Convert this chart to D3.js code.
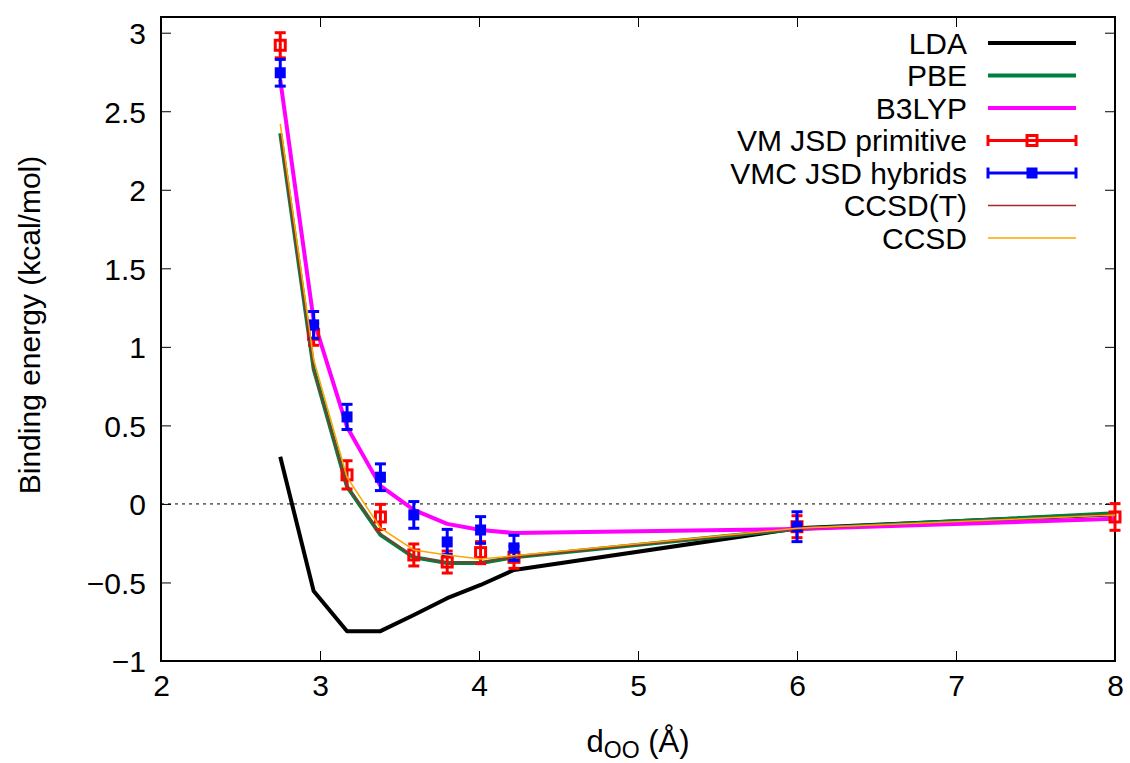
<!DOCTYPE html>
<html><head><meta charset="utf-8">
<script src="https://cdn.jsdelivr.net/npm/d3@7"></script>
<style>
body{margin:0;background:#fff;}
text{font-family:"Liberation Sans",Arial,sans-serif;}
</style></head>
<body><svg id="c" width="1130" height="763"></svg>
<script>
// ---- data ----
const dist = [2.75, 2.96, 3.17, 3.38, 3.59, 3.80, 4.01, 4.22, 6, 8];
const lda   = [0.30, -0.554, -0.81, -0.81, -0.707, -0.60, -0.516, -0.42, -0.155, -0.065];
const pbe   = [2.36, 0.86, 0.11, -0.197, -0.34, -0.376, -0.376, -0.34, -0.16, -0.06];
const b3lyp = [2.70, 1.17, 0.49, 0.115, -0.038, -0.127, -0.166, -0.185, -0.16, -0.095];
const ccsdt = [2.35, 0.855, 0.115, -0.19, -0.335, -0.37, -0.37, -0.34, -0.16, -0.065];
const ccsd  = [2.42, 0.92, 0.17, -0.153, -0.293, -0.325, -0.35, -0.33, -0.155, -0.07];
const vmPrim    = [2.92, 1.08, 0.185, -0.083, -0.325, -0.37, -0.31, -0.34, -0.145, -0.083];
const vmPrimErr = [0.08, 0.07, 0.09, 0.08, 0.07, 0.07, 0.07, 0.07, 0.07, 0.085];
const vmcDist   = [2.75, 2.96, 3.17, 3.38, 3.59, 3.80, 4.01, 4.22, 6];
const vmcHyb    = [2.745, 1.14, 0.554, 0.17, -0.07, -0.242, -0.166, -0.28, -0.145];
const vmcErr    = [0.085, 0.085, 0.08, 0.085, 0.085, 0.08, 0.085, 0.08, 0.095];
const xTicks = [2, 3, 4, 5, 6, 7, 8];
const yTicks = [-1, -0.5, 0, 0.5, 1, 1.5, 2, 2.5, 3];
const legendLabels = ["LDA", "PBE", "B3LYP", "VM JSD primitive", "VMC JSD hybrids", "CCSD(T)", "CCSD"];

// ---- layout ----
const L = 161, R = 1115, T = 17, B = 661;
const svg = d3.select("#c");
const x = d3.scaleLinear().domain([2, 8]).range([L, R]);
const y = d3.scaleLinear().domain([-1, 3.1]).range([B, T]);
const FS = 30;
const fmt = v => (v < 0 ? "\u2212" : "") + String(Math.abs(v));

// zero line
svg.append("line").attr("x1", L).attr("x2", R).attr("y1", y(0)).attr("y2", y(0))
  .attr("stroke", "#000").attr("stroke-width", 1).attr("stroke-dasharray", "3,4");

// axes
const axB = d3.axisBottom(x).tickValues(xTicks).tickSizeInner(-10).tickSizeOuter(0).tickPadding(14).tickFormat(fmt);
const axT = d3.axisTop(x).tickValues(xTicks).tickSizeInner(-10).tickSizeOuter(0).tickFormat("");
const axL = d3.axisLeft(y).tickValues(yTicks).tickSizeInner(-10).tickSizeOuter(0).tickPadding(15).tickFormat(fmt);
const axR = d3.axisRight(y).tickValues(yTicks).tickSizeInner(-10).tickSizeOuter(0).tickFormat("");
function styleAx(g){
  g.select(".domain").remove();
  g.selectAll(".tick line").attr("stroke", "#000").attr("stroke-width", 1);
  g.selectAll(".tick text").attr("font-size", FS).attr("fill", "#000")
   .style("font-family", '"Liberation Sans",Arial,sans-serif');
}
svg.append("g").attr("transform", `translate(0,${B})`).call(axB).call(styleAx)
  .selectAll(".tick text").attr("dy", "0.71em");
svg.append("g").attr("transform", `translate(0,${T})`).call(axT).call(styleAx);
svg.append("g").attr("transform", `translate(${L},0)`).call(axL).call(styleAx)
  .selectAll(".tick text").attr("dy", "0.36em");
svg.append("g").attr("transform", `translate(${R},0)`).call(axR).call(styleAx);
svg.append("rect").attr("x", L).attr("y", T).attr("width", R - L).attr("height", B - T)
  .attr("fill", "none").attr("stroke", "#000").attr("stroke-width", 2);

// axis labels
const xl = svg.append("text").attr("x", 638).attr("y", 752).attr("text-anchor", "middle").attr("font-size", 31);
xl.append("tspan").text("d");
xl.append("tspan").attr("font-size", 23).attr("dy", 6).text("OO");
xl.append("tspan").attr("dy", -6).text(" (\u00C5)");
svg.append("text").attr("transform", "translate(40,325) rotate(-90)").attr("text-anchor", "middle")
  .attr("font-size", FS).text("Binding energy (kcal/mol)");

// lines
const line = (xs, ys) => d3.line().x((d, i) => x(xs[i])).y(d => y(d))(ys);
const lineSpecs = [
  {ys: lda, color: "#000000", w: 4},
  {ys: pbe, color: "#008040", w: 4},
  {ys: b3lyp, color: "#ff00ff", w: 4}
];
lineSpecs.forEach(s => svg.append("path").attr("d", line(dist, s.ys)).attr("fill", "none")
  .attr("stroke", s.color).attr("stroke-width", s.w).attr("stroke-linejoin", "round"));

// error bars
function errSeries(xs, ys, es, color, filled){
  const g = svg.append("g");
  xs.forEach((xv, i) => {
    const cx = x(xv), y1 = y(ys[i] - es[i]), y2 = y(ys[i] + es[i]);
    g.append("line").attr("x1", cx).attr("x2", cx).attr("y1", y1).attr("y2", y2).attr("stroke", color).attr("stroke-width", 3);
    [y1, y2].forEach(yy => g.append("line").attr("x1", cx - 5.5).attr("x2", cx + 5.5).attr("y1", yy).attr("y2", yy)
      .attr("stroke", color).attr("stroke-width", 3));
    marker(g, cx, y(ys[i]), color, filled);
  });
}
function marker(g, cx, cy, color, filled){
  if (filled) g.append("rect").attr("x", cx - 5.5).attr("y", cy - 5.5).attr("width", 11).attr("height", 11).attr("fill", color);
  else g.append("rect").attr("x", cx - 5).attr("y", cy - 5).attr("width", 10).attr("height", 10)
    .attr("fill", "none").attr("stroke", color).attr("stroke-width", 3);
}
errSeries(dist, vmPrim, vmPrimErr, "#ff0000", false);
errSeries(vmcDist, vmcHyb, vmcErr, "#0000ff", true);

svg.append("path").attr("d", line(dist, ccsdt)).attr("fill", "none").attr("stroke", "#a52a2a").attr("stroke-width", 1.3);
svg.append("path").attr("d", line(dist, ccsd)).attr("fill", "none").attr("stroke", "#ffa500").attr("stroke-width", 1.5);

// legend
const legColors = ["#000000", "#008040", "#ff00ff", "#ff0000", "#0000ff", "#a52a2a", "#ffa500"];
const legW = [4, 4, 4, 3, 3, 1.3, 1.5];
const lx1 = 988, lx2 = 1076, ltx = 967;
legendLabels.forEach((lab, i) => {
  const ly = 43 + i * 32.5;
  svg.append("text").attr("x", ltx).attr("y", ly).attr("dy", "0.36em").attr("text-anchor", "end")
    .attr("font-size", FS).text(lab);
  svg.append("line").attr("x1", lx1).attr("x2", lx2).attr("y1", ly).attr("y2", ly)
    .attr("stroke", legColors[i]).attr("stroke-width", legW[i]);
  if (i === 3 || i === 4) {
    [lx1, lx2].forEach(xx => svg.append("line").attr("x1", xx).attr("x2", xx).attr("y1", ly - 5.5).attr("y2", ly + 5.5)
      .attr("stroke", legColors[i]).attr("stroke-width", 3));
    marker(svg, (lx1 + lx2) / 2, ly, legColors[i], i === 4);
  }
});
</script></body></html>
